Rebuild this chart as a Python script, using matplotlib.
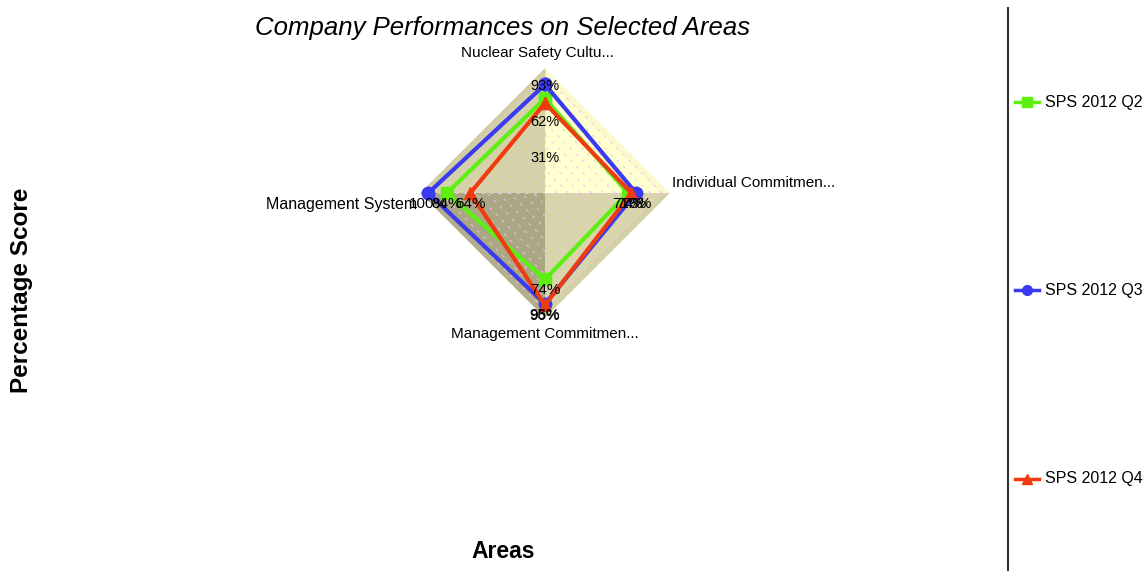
import numpy as np
import matplotlib.pyplot as plt
from matplotlib.lines import Line2D

plt.rcParams['font.family'] = ['Liberation Sans', 'DejaVu Sans']

# radar data, clockwise from the top
areas = ["Nuclear Safety Cultu...", "Individual Commitmen...",
         "Management Commitmen...", "Management System"]
angles_deg = [90, 0, -90, 180]
series = ["SPS 2012 Q2", "SPS 2012 Q3", "SPS 2012 Q4"]
q2 = [81, 71, 74, 84]
q3 = [93, 78, 95, 100]
q4 = [77, 74, 96, 64]
ring_ticks = [31, 62, 93]
r_max = 107

colors = ["#5cf010", "#3a3af0", "#f03a10"]
markers = ["s", "o", "^"]

W, H = 1143, 571
k = 1.167            # pixels per percent
cx, cy = 545, 193    # radar centre in pixels

fig = plt.figure(figsize=(W / 100, H / 100), dpi=100)
ax = fig.add_axes([0, 0, 1, 1])
ax.set_xlim(-cx / k, (W - cx) / k)
ax.set_ylim(-(H - cy) / k, cy / k)
ax.axis("off")

th = np.radians(angles_deg)


def xy(r, t):
    return r * np.cos(t), r * np.sin(t)


# shaded quadrants with a slightly different outer rim
quad_ang = [(90, 0), (0, -90), (-90, -180), (180, 90)]
quad_cols = ["#ffffcf", "#d9d5ab", "#aba785", "#d6d2a7"]
rim_cols = ["#fbf9cc", "#d4d0a6", "#b3af8e", "#d2cea3"]
for (a0, a1), c, rc in zip(quad_ang, quad_cols, rim_cols):
    p0 = xy(r_max, np.radians(a0))
    p1 = xy(r_max, np.radians(a1))
    ax.fill([0, p0[0], p1[0]], [0, p0[1], p1[1]], color=rc, lw=0, zorder=1)
    q0 = xy(r_max - 7, np.radians(a0))
    q1 = xy(r_max - 7, np.radians(a1))
    ax.fill([0, q0[0], q1[0]], [0, q0[1], q1[1]], color=c, lw=0, zorder=1)

# dashed grid diamonds and spokes
grid_kw = dict(color="#ecc4ec", lw=0.7, ls=(0, (3, 6)), zorder=2)
for r in range(10, r_max, 10):
    ax.plot([r, 0, -r, 0, r], [0, r, 0, -r, 0], **grid_kw)
ax.plot([-r_max, r_max], [0, 0], **grid_kw)
ax.plot([0, 0], [-r_max, r_max], **grid_kw)

for t in ring_ticks:
    ax.text(0, t - 1, f"{t}%", ha="center", va="center", fontsize=10.5, zorder=6)

for vals, c, m, name in zip([q2, q3, q4], colors, markers, series):
    v = np.array(vals, dtype=float)
    px, py = xy(v, th)
    ax.plot(np.append(px, px[0]), np.append(py, py[0]), color=c, lw=3,
            marker=m, ms=9, zorder=4)
    for i in range(1, 4):
        ax.text(px[i], py[i] - 11 / k, f"{int(vals[i])}%", ha="center",
                va="center", fontsize=11, zorder=6)

# category labels
ax.text(-8 / k, 140 / k, areas[0], ha="center", va="center", fontsize=11)
ax.text(127 / k, 10 / k, areas[1], ha="left", va="center", fontsize=11)
ax.text(0, -141 / k, areas[2], ha="center", va="center", fontsize=11)
ax.text(-128 / k, -12 / k, areas[3], ha="right", va="center", fontsize=11.5)

fig.text(503 / W, 1 - 28 / H, "Company Performances on Selected Areas",
         ha="center", va="center", fontsize=18.5, style="italic")
fig.text(22 / W, 1 - 290 / H, "Percentage Score", rotation=90,
         ha="center", va="center", fontsize=17.5, weight="bold")
fig.text(503 / W, 1 - 552 / H, "Areas", ha="center", va="center",
         fontsize=16.5, weight="bold")

# legend area
fig.add_artist(Line2D([1008 / W, 1008 / W], [0, 1 - 8 / H],
                      transform=fig.transFigure, color="#333333", lw=1.5))
leg_y = [102, 290, 479]
for y, c, m, name in zip(leg_y, colors, markers, series):
    yy = 1 - y / H
    fig.add_artist(Line2D([1015 / W, 1027 / W, 1039 / W], [yy, yy, yy],
                          transform=fig.transFigure, color=c, lw=2.5,
                          marker=m, ms=7, markevery=[1]))
    fig.text(1045 / W, yy, name, ha="left", va="center", fontsize=11.5)

fig.savefig("out.png", dpi=100)
